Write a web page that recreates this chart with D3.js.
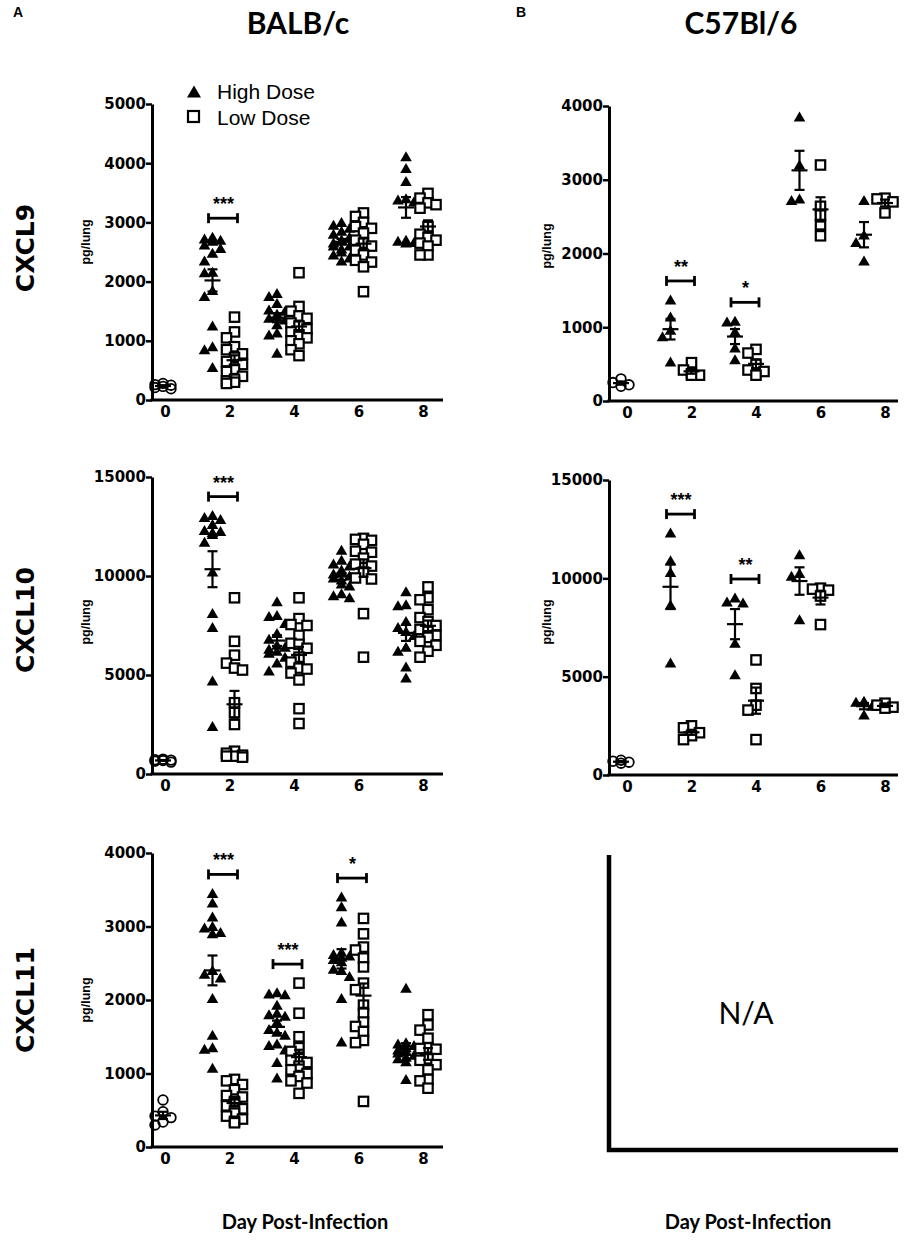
<!DOCTYPE html>
<html lang="en">
<head>
<meta charset="UTF-8" />
<script src="https://cdn.jsdelivr.net/npm/d3@7"></script>
<style>
  body { margin: 0; background: #fff; }
</style>
</head>
<body>
<div id="fig"></div>
<script>
const width = 916, height = 1247;
const ARIAL = "Arial, 'Liberation Sans', sans-serif";
const WIDE = "'DejaVu Sans', Verdana, sans-serif";
const CALIBRI = "Lato, 'Open Sans', sans-serif";

const days = [0, 2, 4, 6, 8];
const treatedDays = [2, 4, 6, 8];

// BALB/c, CXCL9 (pg/lung). high/low rows = day 2, 4, 6, 8
const balbCxcl9Naive = [280, 250, 230, 210, 190, 260];
const balbCxcl9High = [
  [2750, 2720, 2700, 2680, 2620, 2560, 2480, 2350, 2150, 2160, 1850, 1750, 1250, 900, 850, 550],
  [1800, 1750, 1630, 1520, 1500, 1450, 1410, 1380, 1350, 1270, 1130, 1100, 790],
  [3000, 2950, 2900, 2850, 2800, 2750, 2700, 2700, 2650, 2600, 2600, 2550, 2500, 2450, 2400, 2350],
  [4110, 3910, 3690, 3400, 3380, 3350, 2700, 2680, 2660, 2650]
];
const balbCxcl9Low = [
  [1400, 1150, 1050, 900, 850, 780, 720, 650, 600, 520, 480, 400, 350, 320, 300, 280],
  [2150, 1580, 1500, 1420, 1380, 1300, 1250, 1200, 1150, 1100, 1050, 1000, 950, 850, 750],
  [3160, 3100, 3000, 2930, 2900, 2820, 2700, 2650, 2600, 2530, 2450, 2360, 2330, 2250, 1830],
  [3490, 3410, 3330, 3300, 3240, 2930, 2800, 2750, 2700, 2650, 2600, 2450, 2450]
];
const balbCxcl9Sig = ["***", "", "", ""];

// C57Bl/6, CXCL9
const c57Cxcl9Naive = [300, 250, 220, 200];
const c57Cxcl9High = [
  [1370, 1140, 960, 870, 530],
  [1080, 1070, 940, 720, 560],
  [3850, 3200, 2740, 2720],
  [2720, 2250, 2150, 1900]
];
const c57Cxcl9Low = [
  [520, 420, 370, 350, 350],
  [700, 650, 500, 420, 400, 350],
  [3200, 2640, 2520, 2390, 2240],
  [2750, 2740, 2700, 2550]
];
const c57Cxcl9Sig = ["**", "*", "", ""];

// BALB/c, CXCL10
const balbCxcl10Naive = [700, 650, 750, 600, 680, 720];
const balbCxcl10High = [
  [12950, 13050, 12850, 12600, 12300, 12200, 12250, 12100, 11700, 10200, 8100, 7400, 4700, 2400],
  [8700, 8000, 7950, 7600, 7100, 6800, 6500, 6400, 6300, 6200, 6100, 5900, 5600, 5200],
  [11300, 10800, 10600, 10500, 10300, 10200, 10100, 10000, 9900, 9800, 9600, 9500, 9100, 9000, 8900],
  [9200, 8550, 8500, 7700, 7400, 7200, 7000, 6400, 6200, 5400, 4850]
];
const balbCxcl10Low = [
  [8900, 6700, 6000, 5600, 5350, 5250, 3600, 3100, 2500, 1150, 1050, 950, 900, 900, 850],
  [8900, 7850, 7550, 7500, 7000, 6600, 6550, 6350, 5900, 5650, 5350, 5300, 5100, 4750, 3300, 2550],
  [11900, 11850, 11800, 11600, 11250, 11200, 10900, 10600, 10500, 10200, 9900, 9850, 8100, 5900],
  [9450, 8900, 8800, 8300, 7900, 7700, 7500, 7300, 7200, 7000, 6900, 6700, 6500, 6200, 5900]
];
const balbCxcl10Sig = ["***", "", "", ""];

// C57Bl/6, CXCL10
const c57Cxcl10Naive = [750, 700, 650, 600];
const c57Cxcl10High = [
  [12300, 10900, 10300, 8650, 5700],
  [9000, 8800, 8750, 6700, 5100],
  [11200, 10250, 10100, 7900],
  [3750, 3700, 3500, 3050]
];
const c57Cxcl10Low = [
  [2500, 2400, 2150, 2000, 1800],
  [5850, 4400, 3550, 3300, 1800],
  [9500, 9450, 9400, 9100, 7650],
  [3650, 3550, 3450, 3400]
];
const c57Cxcl10Sig = ["***", "**", "", ""];

// BALB/c, CXCL11
const balbCxcl11Naive = [640, 480, 420, 400, 340, 300];
const balbCxcl11High = [
  [3450, 3320, 3130, 3000, 2980, 2920, 2900, 2400, 2350, 2300, 2020, 1520, 1350, 1330, 1070],
  [2100, 2080, 2070, 1930, 1820, 1800, 1780, 1700, 1600, 1560, 1520, 1400, 1380, 1320, 1150, 940],
  [3400, 3270, 3060, 2650, 2620, 2600, 2580, 2550, 2520, 2420, 2400, 2320, 2020, 1430],
  [2160, 1420, 1400, 1380, 1350, 1320, 1300, 1280, 1250, 1220, 1200, 1160, 920]
];
const balbCxcl11Low = [
  [920, 900, 850, 780, 700, 680, 620, 600, 560, 520, 500, 460, 420, 380, 350, 330],
  [2230, 1820, 1500, 1350, 1300, 1200, 1180, 1150, 1100, 1050, 1000, 960, 900, 870, 730],
  [3110, 2900, 2720, 2680, 2570, 2450, 2230, 2140, 1930, 1820, 1700, 1640, 1570, 1450, 1420, 620],
  [1800, 1660, 1590, 1480, 1350, 1340, 1330, 1200, 1180, 1120, 1050, 920, 900, 800]
];
const balbCxcl11Sig = ["***", "***", "*", ""];

const rowLabels = ["CXCL9", "CXCL10", "CXCL11"];
const strainLabels = ["BALB/c", "C57Bl/6"];

// layout of each panel (pixels)
const leftCol = { axisX: 152, axisEnd: 443, xRange: [165, 423], hiOff: -17, loOff: 5, naiveOff: -2, labelX: 90 };
const rightCol = { axisX: 609, axisEnd: 898, xRange: [627, 885], hiOff: -21, loOff: 0, naiveOff: -6, labelX: 551 };

const panels = [
  { ...leftCol, naive: balbCxcl9Naive, high: balbCxcl9High, low: balbCxcl9Low, sig: balbCxcl9Sig, max: 5000, step: 1000, yRange: [400, 104], labelY: 242 },
  { ...rightCol, naive: c57Cxcl9Naive, high: c57Cxcl9High, low: c57Cxcl9Low, sig: c57Cxcl9Sig, max: 4000, step: 1000, yRange: [401, 106], labelY: 246 },
  { ...leftCol, naive: balbCxcl10Naive, high: balbCxcl10High, low: balbCxcl10Low, sig: balbCxcl10Sig, max: 15000, step: 5000, yRange: [774, 477], labelY: 622 },
  { ...rightCol, naive: c57Cxcl10Naive, high: c57Cxcl10High, low: c57Cxcl10Low, sig: c57Cxcl10Sig, max: 15000, step: 5000, yRange: [775, 480], labelY: 622 },
  { ...leftCol, naive: balbCxcl11Naive, high: balbCxcl11High, low: balbCxcl11Low, sig: balbCxcl11Sig, max: 4000, step: 1000, yRange: [1147, 853], labelY: 1000 }
];

const svg = d3.select("#fig").append("svg")
  .attr("width", width).attr("height", height)
  .style("font-family", ARIAL);

const triPath = "M0,-5.5L5.8,4.5L-5.8,4.5Z";

// spread points of one column sideways, like a column scatter
function swarm(values, cx, y) {
  const placed = [];
  const cand = [0, -8, 8, -4, 4, -12, 12];
  values.slice().sort((a, b) => b - a).forEach(v => {
    const py = y(v);
    let best = 0, bestHits = Infinity;
    for (const dx of cand) {
      const hits = placed.filter(p => Math.abs(p.dx - dx) < 8 && Math.abs(p.y - py) < 8).length;
      if (hits < bestHits) { best = dx; bestHits = hits; if (hits === 0) break; }
    }
    placed.push({ v, dx: best, x: cx + best, y: py });
  });
  return placed;
}

function errorBar(g, values, cx, y) {
  const m = d3.mean(values);
  const sem = d3.deviation(values) / Math.sqrt(values.length);
  const eb = g.append("g").attr("stroke", "#000").attr("stroke-width", 2.2);
  eb.append("line").attr("x1", cx).attr("x2", cx).attr("y1", y(m + sem)).attr("y2", y(m - sem));
  eb.append("line").attr("x1", cx - 8).attr("x2", cx + 8).attr("y1", y(m)).attr("y2", y(m));
  [m + sem, m - sem].forEach(v =>
    eb.append("line").attr("x1", cx - 5).attr("x2", cx + 5).attr("y1", y(v)).attr("y2", y(v)));
}

function drawPanel(p) {
  const g = svg.append("g");
  const y = d3.scaleLinear().domain([0, p.max]).range(p.yRange);
  const x = d3.scalePoint().domain(days).range(p.xRange);

  const ya = g.append("g").attr("transform", `translate(${p.axisX},0)`)
    .call(d3.axisLeft(y).tickValues(d3.range(0, p.max + 1, p.step))
      .tickFormat(d3.format("d")).tickSize(6).tickSizeOuter(0).tickPadding(0));
  ya.attr("font-family", WIDE).attr("font-size", 15).attr("font-weight", "bold");
  ya.select(".domain").attr("stroke-width", 3);
  ya.selectAll(".tick line").attr("stroke-width", 2.5);

  g.append("line").attr("x1", p.axisX - 1.5).attr("x2", p.axisEnd)
    .attr("y1", y(0)).attr("y2", y(0)).attr("stroke", "#000").attr("stroke-width", 3);

  const xa = g.append("g").attr("transform", `translate(0,${y(0)})`)
    .call(d3.axisBottom(x).tickSize(0).tickPadding(6));
  xa.attr("font-family", WIDE).attr("font-size", 15).attr("font-weight", "bold");
  xa.select(".domain").remove();

  g.append("text").attr("transform", `translate(${p.labelX},${p.labelY}) rotate(-90)`)
    .attr("text-anchor", "middle").attr("font-size", 12.5).attr("font-weight", "bold").text("pg/lung");

  // naive (day 0)
  const n0 = swarm(p.naive, x(0) + p.naiveOff, y);
  g.append("g").selectAll("circle").data(n0).join("circle")
    .attr("cx", d => d.x).attr("cy", d => d.y).attr("r", 4.8)
    .attr("fill", "none").attr("stroke", "#000").attr("stroke-width", 1.8);
  errorBar(g, p.naive, x(0) + p.naiveOff, y);

  treatedDays.forEach((day, i) => {
    const hx = x(day) + p.hiOff, lx = x(day) + p.loOff;
    const hi = swarm(p.high[i], hx, y);
    const lo = swarm(p.low[i], lx, y);
    g.append("g").selectAll("path").data(hi).join("path")
      .attr("d", triPath).attr("transform", d => `translate(${d.x},${d.y})`).attr("fill", "#000");
    g.append("g").selectAll("rect").data(lo).join("rect")
      .attr("x", d => d.x - 4.7).attr("y", d => d.y - 4.7).attr("width", 9.4).attr("height", 9.4)
      .attr("fill", "#fff").attr("stroke", "#000").attr("stroke-width", 2.2);
    errorBar(g, p.high[i], hx, y);
    errorBar(g, p.low[i], lx, y);

    if (p.sig[i]) {
      const top = y(d3.max(p.high[i].concat(p.low[i]))) - 19;
      const b = g.append("g").attr("stroke", "#000").attr("stroke-width", 2.8);
      b.append("line").attr("x1", hx - 4).attr("x2", lx + 3).attr("y1", top).attr("y2", top);
      [hx - 4, lx + 3].forEach(bx =>
        b.append("line").attr("x1", bx).attr("x2", bx).attr("y1", top - 5).attr("y2", top + 5));
      g.append("text").attr("x", (hx + lx) / 2).attr("y", top - 8)
        .attr("text-anchor", "middle").attr("font-size", 18).attr("font-weight", "bold")
        .text(p.sig[i]);
    }
  });
}

panels.forEach(drawPanel);

// empty C57Bl/6 CXCL11 panel
const na = svg.append("g").attr("stroke", "#000").attr("stroke-width", 4.5).attr("fill", "none");
na.append("path").attr("d", "M609,855V1150H898");
svg.append("text").attr("x", 746).attr("y", 1024).attr("text-anchor", "middle")
  .attr("font-family", CALIBRI).attr("font-size", 30).text("N/A");

// legend
const lg = svg.append("g");
lg.append("path").attr("d", "M0,-6.5L7,5.5L-7,5.5Z").attr("transform", "translate(194,92)").attr("fill", "#000");
lg.append("rect").attr("x", 188).attr("y", 111).attr("width", 11).attr("height", 11)
  .attr("fill", "#fff").attr("stroke", "#000").attr("stroke-width", 2.2);
lg.append("text").attr("x", 217).attr("y", 99).attr("font-size", 21).text("High Dose");
lg.append("text").attr("x", 217).attr("y", 125).attr("font-size", 21).text("Low Dose");

// headings
svg.append("text").attr("x", 13).attr("y", 17).attr("font-size", 14).attr("font-weight", "bold").text("A");
svg.append("text").attr("x", 516).attr("y", 17).attr("font-size", 14).attr("font-weight", "bold").text("B");
[298, 741].forEach((cx, i) => {
  svg.append("text").attr("x", cx).attr("y", 34).attr("text-anchor", "middle")
    .attr("font-family", CALIBRI).attr("font-size", 30).attr("font-weight", "bold").text(strainLabels[i]);
  svg.append("text").attr("x", cx + 7).attr("y", 1229).attr("text-anchor", "middle")
    .attr("font-family", CALIBRI).attr("font-size", 20).attr("font-weight", "bold").text("Day Post-Infection");
});
[248, 620, 1000].forEach((cy, i) => {
  svg.append("text").attr("transform", `translate(34,${cy}) rotate(-90)`)
    .attr("text-anchor", "middle").attr("font-family", WIDE).attr("font-size", 25)
    .attr("font-weight", "bold").text(rowLabels[i]);
});
</script>
</body>
</html>
